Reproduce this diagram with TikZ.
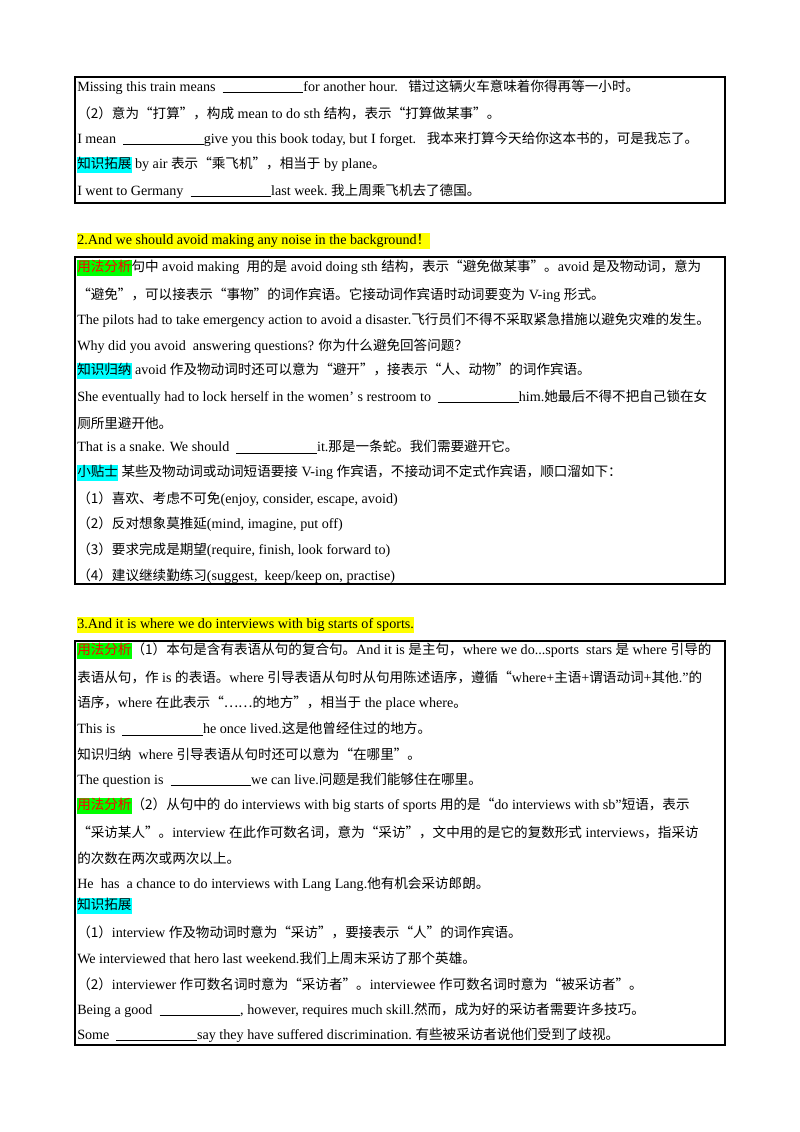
\documentclass[tikz,border=0pt]{standalone}
\usepackage{fontspec}
\setmainfont{Liberation Serif}
\newfontfamily\cjk{Noto Sans CJK SC}
\definecolor{hcyan}{RGB}{0,255,255}
\definecolor{hgreen}{RGB}{0,255,0}
\definecolor{hyellow}{RGB}{255,255,0}
\newcommand{\zh}[1]{{\cjk\fontsize{10.1}{12}\selectfont #1}}
\newcommand{\blank}{\rule[-1.5pt]{60pt}{0.6pt}}
\newcommand{\hlg}[1]{{\setlength{\fboxsep}{0pt}\colorbox{hgreen}{\strut\textcolor{red}{\zh{#1}}}}}
\newcommand{\hlc}[1]{{\setlength{\fboxsep}{0pt}\colorbox{hcyan}{\strut\zh{#1}}}}
\newcommand{\hly}[1]{{\setlength{\fboxsep}{0pt}\colorbox{hyellow}{\strut #1}}}
\tikzset{ln/.style={anchor=west,inner sep=0pt,font=\fontsize{10.5}{12}\selectfont},
 boxf/.style={draw,line width=0.8pt}}
\newcommand{\Ln}[3]{\node[ln] (#1) at (77,#2) {#3};}
\begin{document}
\begin{tikzpicture}[x=0.744pt,y=-0.744pt]
\useasboundingbox (0,0) rectangle (800,1132);
\fill[white] (0,0) rectangle (800,1132);
\draw[boxf] (75,77) rectangle (725,203);
\Ln{a1}{87}{Missing this train means \ \blank for another hour.\ \ \ \zh{错过这辆火车意味着你得再等一小时。}}
\Ln{a2}{113}{\zh{（2）意为“打算”，构成} mean to do sth \zh{结构，表示“打算做某事”。}}
\Ln{a3}{139}{I mean \ \blank give you this book today, but I forget.\ \ \ \zh{我本来打算今天给你这本书的，可是我忘了。}}
\Ln{a4}{165}{\hlc{知识拓展}\ by air \zh{表示“乘飞机”，相当于} by plane\zh{。}}
\Ln{a5}{191}{I went to Germany \ \blank last week.\ \zh{我上周乘飞机去了德国。}}
\Ln{h2}{241}{\hly{2.And we should avoid making any noise in the background\zh{！}}}
\draw[boxf] (75,257) rectangle (725,584);
\Ln{b1}{268}{\hlg{用法分析}\zh{句中} avoid making \ \zh{用的是} avoid doing sth \zh{结构，表示“避免做某事”。}avoid \zh{是及物动词，意为}}
\Ln{b2}{295}{\zh{“避免”，可以接表示“事物”的词作宾语。它接动词作宾语时动词要变为} V-ing \zh{形式。}}
\Ln{b3}{320}{The pilots had to take emergency action to avoid a disaster.\zh{飞行员们不得不采取紧急措施以避免灾难的发生。}}
\Ln{b4}{346}{Why did you avoid \ answering questions? \zh{你为什么避免回答问题？}}
\Ln{b5}{371}{\hlc{知识归纳}\ avoid \zh{作及物动词时还可以意为“避开”，接表示“人、动物”的词作宾语。}}
\Ln{b6}{397}{She eventually had to lock herself in the women'\ s restroom to \ \blank him.\zh{她最后不得不把自己锁在女}}
\Ln{b7}{423}{\zh{厕所里避开他。}}
\Ln{b8}{447}{That is a snake. We should \ \blank it.\zh{那是一条蛇。我们需要避开它。}}
\Ln{b9}{473}{\hlc{小贴士}\ \zh{某些及物动词或动词短语要接} V-ing \zh{作宾语，不接动词不定式作宾语，顺口溜如下：}}
\Ln{b10}{499}{\zh{（1）喜欢、考虑不可免}(enjoy, consider, escape, avoid)}
\Ln{b11}{524}{\zh{（2）反对想象莫推延}(mind, imagine, put off)}
\Ln{b12}{550}{\zh{（3）要求完成是期望}(require, finish, look forward to)}
\Ln{b13}{576}{\zh{（4）建议继续勤练习}(suggest,\ \ keep/keep on, practise)}
\Ln{h3}{625}{\hly{3.And it is where we do interviews with big starts of sports.}}
\draw[boxf] (75,641) rectangle (725,1045);
\Ln{c1}{651}{\hlg{用法分析}\zh{（1）本句是含有表语从句的复合句。}And it is \zh{是主句，}where we do...sports\ \ stars \zh{是} where \zh{引导的}}
\Ln{c2}{677}{\zh{表语从句，作} is \zh{的表语。}where \zh{引导表语从句时从句用陈述语序，遵循“}where+\zh{主语}+\zh{谓语动词}+\zh{其他}.”\zh{的}}
\Ln{c3}{703}{\zh{语序，}where \zh{在此表示“……的地方”，相当于} the place where\zh{。}}
\Ln{c4}{729}{This is \ \blank he once lived.\zh{这是他曾经住过的地方。}}
\Ln{c5}{754}{\zh{知识归纳}\ \ where \zh{引导表语从句时还可以意为“在哪里”。}}
\Ln{c6}{780}{The question is \ \blank we can live.\zh{问题是我们能够住在哪里。}}
\Ln{c7}{806}{\hlg{用法分析}\zh{（2）从句中的} do interviews with big starts of sports \zh{用的是“}do interviews with sb”\zh{短语，表示}}
\Ln{c8}{832}{\zh{“采访某人”。}interview \zh{在此作可数名词，意为“采访”，文中用的是它的复数形式} interviews\zh{，指采访}}
\Ln{c9}{858}{\zh{的次数在两次或两次以上。}}
\Ln{c10}{884}{He\ \ has\ \ a chance to do interviews with Lang Lang.\zh{他有机会采访郎朗。}}
\Ln{c11}{906}{\hlc{知识拓展}}
\Ln{c12}{932}{\zh{（1）}interview \zh{作及物动词时意为“采访”，要接表示“人”的词作宾语。}}
\Ln{c13}{958}{We interviewed that hero last weekend.\zh{我们上周末采访了那个英雄。}}
\Ln{c14}{984}{\zh{（2）}interviewer \zh{作可数名词时意为“采访者”。}interviewee \zh{作可数名词时意为“被采访者”。}}
\Ln{c15}{1010}{Being a good \ \blank, however, requires much skill.\zh{然而，成为好的采访者需要许多技巧。}}
\Ln{c16}{1035}{Some \ \blank say they have suffered discrimination.\ \zh{有些被采访者说他们受到了歧视。}}
\end{tikzpicture}
\end{document}
